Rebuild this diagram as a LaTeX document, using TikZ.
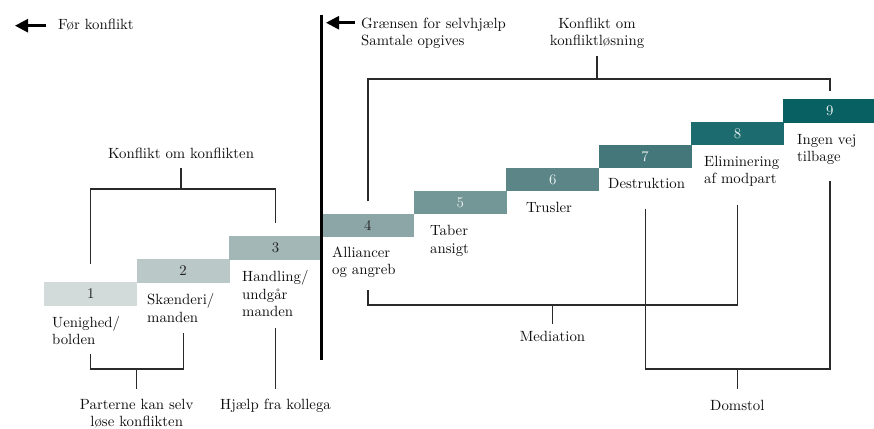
\documentclass[tikz,border=0pt]{standalone}
\usepackage{fontspec}
\setmainfont{lmroman10-regular.otf}
\usepackage{tikz}
\usetikzlibrary{arrows.meta}

\definecolor{trin1}{HTML}{D2DADA}
\definecolor{trin2}{HTML}{BAC8C8}
\definecolor{trin3}{HTML}{A3B7B7}
\definecolor{trin4}{HTML}{8CA6A7}
\definecolor{trin5}{HTML}{739697}
\definecolor{trin6}{HTML}{5B8587}
\definecolor{trin7}{HTML}{437779}
\definecolor{trin8}{HTML}{1C6B6E}
\definecolor{trin9}{HTML}{096062}
\definecolor{lystal}{HTML}{E6EEEE}
\definecolor{mrktal}{HTML}{222222}
\definecolor{streg}{HTML}{2A2A2A}

\newcommand{\stigefont}{\fontsize{14.8}{17.5}\selectfont}

\tikzset{
  trin/.style={anchor=north west, minimum width=93pt, minimum height=23.5pt, inner sep=0pt, font=\stigefont},
  tekst/.style={inner sep=0pt, font=\stigefont, text=black!95},
  trintekst/.style={tekst, anchor=north west, align=left},
  bracket/.style={draw=streg, line width=1.2pt},
  pil/.style={line width=2.6pt, -{Triangle[length=13pt,width=13pt]}},
  graensestreg/.style={line width=3pt}
}

\begin{document}
\begin{tikzpicture}[x=1pt,y=-1pt]
\useasboundingbox (0,0) rectangle (874,428);

% trappen
\node[trin, fill=trin1, text=mrktal] (s1) at (44,282) {1};
\node[trin, fill=trin2, text=mrktal] (s2) at (136.4,259.1) {2};
\node[trin, fill=trin3, text=mrktal] (s3) at (228.8,236.2) {3};
\node[trin, fill=trin4, text=mrktal] (s4) at (321.2,213.3) {4};
\node[trin, fill=trin5, text=lystal] (s5) at (413.6,190.4) {5};
\node[trin, fill=trin6, text=lystal] (s6) at (506,167.5) {6};
\node[trin, fill=trin7, text=lystal] (s7) at (598.4,144.6) {7};
\node[trin, fill=trin8, text=lystal] (s8) at (690.8,121.7) {8};
\node[trin, fill=trin9, text=lystal] (s9) at (783.2,98.8) {9};

\node[trintekst] (l1) at (52,314.75) {\strut Uenighed/\\bolden};
\node[trintekst] (l2) at (147,292.5) {\strut Skænderi/\\manden};
\node[trintekst] (l3) at (242,269.5) {\strut Handling/\\undgår\\manden};
\node[trintekst] (l4) at (332,245) {\strut Alliancer\\og angreb};
\node[trintekst] (l5) at (430,223.5) {\strut Taber\\ansigt};
\node[trintekst] (l6) at (526,200) {\strut Trusler};
\node[trintekst] (l7) at (608,176) {\strut Destruktion};
\node[trintekst] (l8) at (704,154) {\strut Eliminering\\af modpart};
\node[trintekst] (l9) at (797,131.75) {\strut Ingen vej\\tilbage};

% graensen for selvhjaelp
\coordinate (grtop) at (0,15);
\coordinate (grbund) at (0,360);
\draw[graensestreg] (s4.north west |- grtop) -- (s4.north west |- grbund);

\node[tekst, anchor=north west] (foer) at (58,16.75) {\strut Før konflikt};
\node[tekst, anchor=north west, align=left] (graense) at (361,15.75) {\strut Grænsen for selvhjælp\\Samtale opgives};
\coordinate (foerspids) at (15,0);
\coordinate (graensespids) at (326,22.75);
\draw[pil] ([xshift=-12pt]foer.west) -- (foerspids |- foer.west);
\draw[pil] (graense.north west |- graensespids) ++(-6,0) -- (graensespids);

% klammer over trappen
\node[tekst, anchor=north] (kk) at (181,145.75) {\strut Konflikt om konflikten};
\node[tekst, anchor=north, align=center] (kol) at (597,15.75) {\strut Konflikt om\\konfliktløsning};

\coordinate (kkY) at (0,189);
\draw[bracket] ([yshift=18pt]s1.north) -- (s1.north |- kkY) -- (s3.north |- kkY) -- ([yshift=13pt]s3.north);
\draw[bracket, shorten <=4pt] (kk.south) -- (kk.south |- kkY);

\coordinate (kolY) at (0,79);
\draw[bracket] ([yshift=12pt]s4.north) -- (s4.north |- kolY) -- (s9.north |- kolY) -- ([yshift=8pt]s9.north);
\draw[bracket, shorten <=7pt] (kol.south) -- (kol.south |- kolY);

% klammer under trappen
\coordinate (botY) at (0,396.75);
\node[tekst, anchor=north, align=center] (parter) at (136.7,396.75) {\strut Parterne kan selv\\løse konflikten};
\node[tekst, anchor=north] (kollega) at (s3.south |- botY) {\strut Hjælp fra kollega};
\node[tekst, anchor=north] (med) at (552.5,328.75) {\strut Mediation};
\node[tekst, anchor=north] (dom) at (737.3,397.75) {\strut Domstol};

\coordinate (parY) at (0,369);
\draw[bracket] ([yshift=-48pt]s1.south) -- (s1.south |- parY) -- (s2.south |- parY) -- ([yshift=-50pt]s2.south);
\draw[bracket, shorten <=8pt] (parter.north) -- (parter.north |- parY);

\draw[bracket, shorten <=8pt] (kollega.north) -- ([yshift=-68pt]s3.south);

\coordinate (medY) at (0,305);
\draw[bracket] ([yshift=-53pt]s4.south) -- (s4.south |- medY) -- (s8.south |- medY) -- ([yshift=-59pt]s8.south);
\draw[bracket, shorten <=5pt] (med.north) -- (med.north |- medY);

\coordinate (domY) at (0,369);
\draw[bracket] ([yshift=-40pt]s7.south) -- (s7.south |- domY) -- (s9.south |- domY) -- ([yshift=-58pt]s9.south);
\draw[bracket, shorten <=9pt] (dom.north) -- (dom.north |- domY);
\end{tikzpicture}
\end{document}
